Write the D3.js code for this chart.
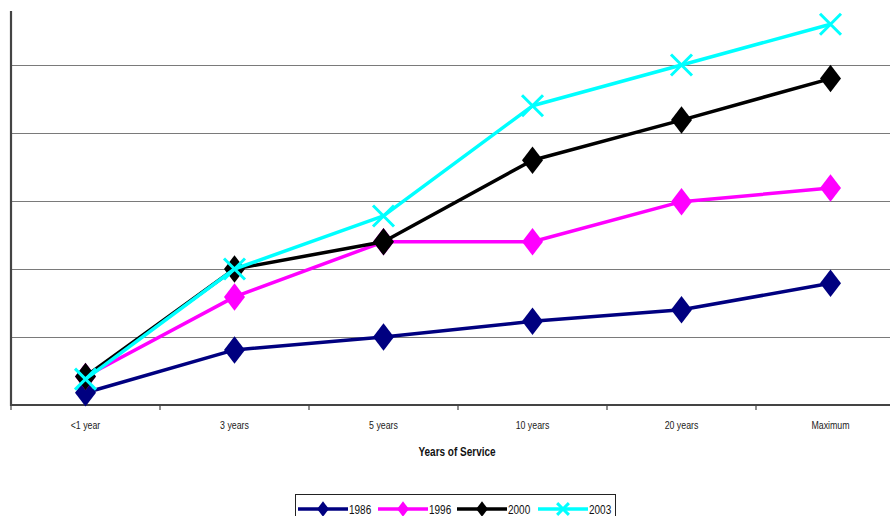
<!DOCTYPE html>
<html>
<head>
<meta charset="utf-8">
<script src="https://cdn.jsdelivr.net/npm/d3@7/dist/d3.min.js"></script>
<style>
  html, body { margin: 0; padding: 0; background: #fff; }
  svg { display: block; }
  text { font-family: "Liberation Sans", Arial, sans-serif; }
</style>
</head>
<body>
<svg id="chart" width="890" height="516"></svg>
<script>
// Years-of-service categories along the x axis
const categories = ["<1 year", "3 years", "5 years", "10 years", "20 years", "Maximum"];

// Series values, one array per year
const s1986 = [1.8, 8.1, 10, 12.3, 14.0, 17.9];
const s1996 = [4.2, 15.9, 24, 24, 29.9, 31.9];
const s2000 = [4.2, 20, 24, 36, 41.9, 48];
const s2003 = [3.8, 20, 27.8, 44, 50, 56];

const seriesNames = ["1986", "1996", "2000", "2003"];
const seriesColors = ["#000080", "#ff00ff", "#000000", "#00ffff"];
const seriesMarkers = ["diamond", "diamond", "diamond", "cross"];
const seriesValues = [s1986, s1996, s2000, s2003];

const gridValues = [10, 20, 30, 40, 50];

// narrow text: Liberation Sans squeezed horizontally
const NARROW = 0.8;
function narrowText(sel, px, py) {
  return sel.attr("transform", `translate(${px},${py}) scale(${NARROW},1)`);
}

const svg = d3.select("#chart");

const x = d3.scaleBand().domain(categories).range([11, 905]).padding(0);
const y = d3.scaleLinear().domain([0, 60]).range([405, -3]);
const cx = c => x(c) + x.bandwidth() / 2;

// horizontal gridlines
svg.append("g").selectAll("line").data(gridValues).join("line")
  .attr("x1", 11).attr("x2", 890)
  .attr("y1", d => Math.round(y(d)) + 0.5).attr("y2", d => Math.round(y(d)) + 0.5)
  .attr("stroke", "#7a7a7a").attr("stroke-width", 1.2);

// y axis line
svg.append("line")
  .attr("x1", 11).attr("x2", 11)
  .attr("y1", 11).attr("y2", 406)
  .attr("stroke", "#444").attr("stroke-width", 2.2);

// x axis with ticks between categories
const xAxis = svg.append("g").attr("transform", "translate(0,405)");
xAxis.append("line").attr("x1", 10).attr("x2", 890).attr("y1", 0).attr("y2", 0)
  .attr("stroke", "#444").attr("stroke-width", 2.2);
xAxis.selectAll("line.tick").data(categories).join("line").attr("class", "tick")
  .attr("x1", d => x(d)).attr("x2", d => x(d))
  .attr("y1", 0).attr("y2", 5)
  .attr("stroke", "#444").attr("stroke-width", 1.2);
xAxis.selectAll("text").data(categories).join("text")
  .each(function (d) { narrowText(d3.select(this), cx(d), 24); })
  .attr("text-anchor", "middle")
  .attr("font-size", 11).attr("fill", "#222")
  .text(d => d);

// x axis title
narrowText(svg.append("text"), 457, 456)
  .attr("text-anchor", "middle")
  .attr("font-size", 12.5).attr("font-weight", "bold").attr("fill", "#111")
  .text("Years of Service");

function drawMarker(g, kind, color, px, py, size) {
  if (kind === "diamond") {
    const w = size * 0.42, h = size * 0.55;
    g.append("path")
      .attr("d", `M${px},${py - h}L${px + w},${py}L${px},${py + h}L${px - w},${py}Z`)
      .attr("fill", color);
  } else {
    const r = size * 0.42;
    g.append("path")
      .attr("d", `M${px - r},${py - r}L${px + r},${py + r}M${px - r},${py + r}L${px + r},${py - r}`)
      .attr("stroke", color).attr("stroke-width", 3).attr("fill", "none");
  }
}

const line = d3.line().x((d, i) => cx(categories[i])).y(d => y(d));

seriesValues.forEach((vals, si) => {
  const g = svg.append("g");
  g.append("path").datum(vals)
    .attr("d", line)
    .attr("fill", "none")
    .attr("stroke", seriesColors[si])
    .attr("stroke-width", 3.5)
    .attr("stroke-linejoin", "round");
  vals.forEach((v, i) => drawMarker(g, seriesMarkers[si], seriesColors[si], cx(categories[i]), y(v), 25));
});

// legend
const legend = svg.append("g");
legend.append("rect")
  .attr("x", 295.5).attr("y", 494.5).attr("width", 320).attr("height", 30)
  .attr("fill", "#fff").attr("stroke", "#222").attr("stroke-width", 1);
const legendX = [298, 378, 457, 538];
seriesNames.forEach((name, i) => {
  const lx = legendX[i], ly = 509;
  legend.append("line")
    .attr("x1", lx).attr("x2", lx + 50).attr("y1", ly).attr("y2", ly)
    .attr("stroke", seriesColors[i]).attr("stroke-width", 3.5);
  drawMarker(legend, seriesMarkers[i], seriesColors[i], lx + 25, ly, 14);
  narrowText(legend.append("text"), lx + 51, ly + 4.5)
    .attr("font-size", 12.5).attr("fill", "#111")
    .text(name);
});
</script>
</body>
</html>
